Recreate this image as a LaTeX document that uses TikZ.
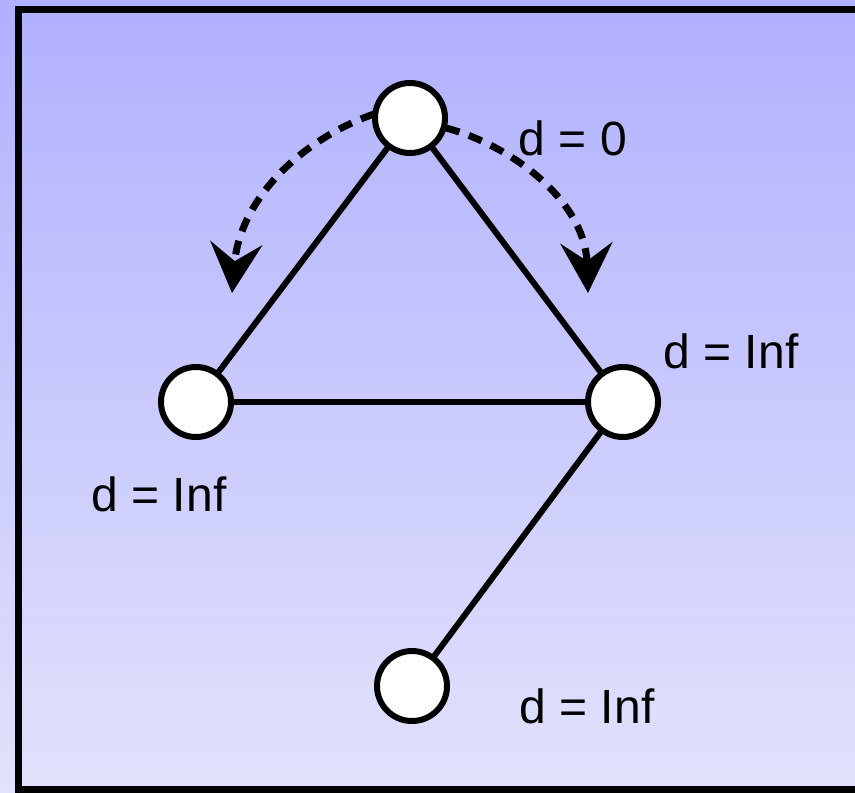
\documentclass[tikz,border=0pt]{standalone}
\usepackage{fontspec}
\setmainfont{Liberation Sans}
\usetikzlibrary{arrows.meta}
\definecolor{bgtop}{RGB}{176,176,255}
\definecolor{bgbot}{RGB}{226,226,252}
\tikzset{
  vertex/.style={
    circle, draw=black, line width=3pt, fill=white,
    minimum size=35pt, inner sep=0pt
  },
  edge/.style={line width=3pt, draw=black},
  visit/.style={
    -{Stealth[length=25pt, width=26pt, inset=9pt]},
    line width=3.5pt, dash pattern=on 7pt off 5pt, draw=black
  },
  dist/.style={font=\fontsize{24}{28}\selectfont, inner sep=0pt}
}
\begin{document}
\begin{tikzpicture}[x=0.5pt, y=-0.5pt]
\useasboundingbox (0,0) rectangle (855,792);
\clip (0,0) rectangle (855,792);

% background and frame
\shade[top color=bgtop, bottom color=bgbot] (0,0) rectangle (855,792);
\draw[line width=3.5pt] (870,9.5) -- (18.5,9.5) -- (18.5,789.5) -- (870,789.5);

% graph vertices (positions only, drawn later on top)
\coordinate (ps) at (410,118);
\coordinate (pl) at (196,402);
\coordinate (pr) at (623,402);
\coordinate (pb) at (412,686);

% arrow tips of the visiting order
\coordinate (tl) at (232,293);
\coordinate (tr) at (588,293);

% edges
\draw[edge] (ps) -- (pl);
\draw[edge] (ps) -- (pr);
\draw[edge] (pl) -- (pr);
\draw[edge] (pr) -- (pb);

% dashed visiting arrows
\draw[visit] (ps) ++(-36,-4) .. controls (300,140) and (240,200) .. (tl);
\draw[visit] (ps) ++(36,10) .. controls (510,145) and (585,200) .. (tr);

% vertices
\node[vertex] (s) at (ps) {};
\node[vertex] (l) at (pl) {};
\node[vertex] (r) at (pr) {};
\node[vertex] (b) at (pb) {};

% distance labels
\node[dist] (ds) at (573,138) {d = 0};
\node[dist] (dr) at (731,351) {d = Inf};
\node[dist] (dl) at (159,494) {d = Inf};
\node[dist] (db) at (587,706) {d = Inf};

\end{tikzpicture}
\end{document}
